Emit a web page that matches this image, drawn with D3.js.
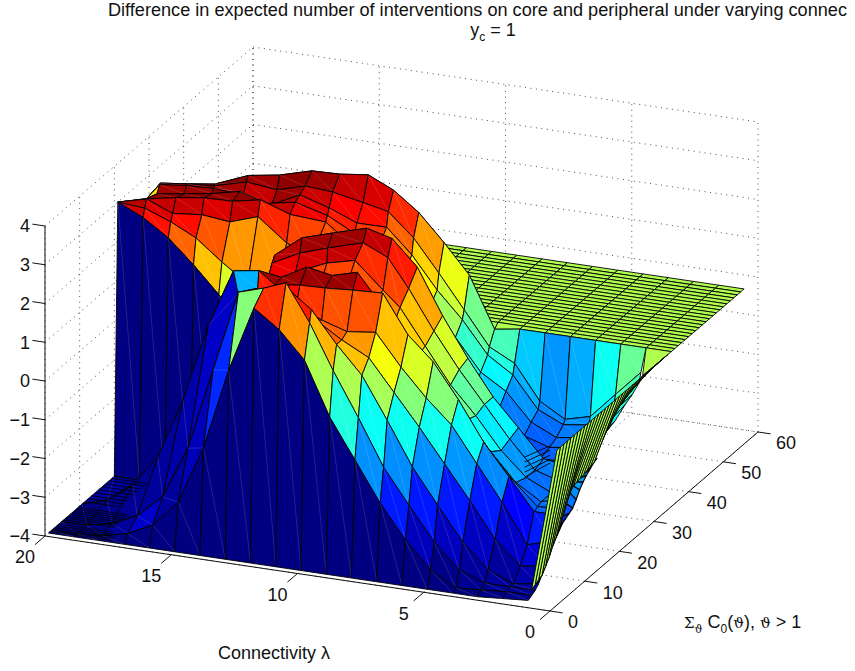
<!DOCTYPE html>
<html>
<head>
<meta charset="utf-8">
<script src="https://cdnjs.cloudflare.com/ajax/libs/d3/7.8.5/d3.min.js"></script>
<style>
  body { margin: 0; background: #fff; }
  text { font-family: "Liberation Sans", Arial, sans-serif; fill: #111; }
</style>
</head>
<body>
<svg id="chart" width="855" height="671"></svg>
<script>
// tick labels
var lambdaTicks = [0, 5, 10, 15, 20]
var sigmaTicks = [0, 10, 20, 30, 40, 50, 60]
var zTicks = [-4, -3, -2, -1, 0, 1, 2, 3, 4]

// mesh columns, connectivity lambda
var lambdas = [0, 1, 2, 3, 4, 5, 6, 7, 8, 9, 10, 11, 12, 13, 14, 15, 16, 17, 18, 19, 20]

// mesh rows front to back: sigma and height at every lambda column
var sigmaRows = [
  [1, 1, 1, 1, 1, 1, 1, 1, 1, 1, 1, 1, 1, 1, 1, 1, 1, 1, 1, 1, 1],
  [2, 2, 2, 2, 2, 2, 2, 2, 2, 2, 2, 2, 2, 2, 2, 2, 2, 2, 2, 2, 2],
  [3, 3, 3, 3, 3, 3, 3, 3, 3, 3, 3.5, 4, 4.8, 4.8, 4.8, 4.8, 4.8, 4.8, 4.8, 4.8, 4.8],
  [4, 4, 4, 4, 4, 4, 4, 4, 4, 4, 4, 4.5, 5, 4.8, 4.8, 4.8, 4.8, 4.8, 4.8, 4.8, 4.8],
  [6, 6, 6, 6, 6, 6, 6, 6, 6, 5.5, 5.5, 5.5, 5.5, 4.8, 4.8, 4.8, 4.8, 4.8, 4.8, 4.8, 4.8],
  [8, 8, 8, 8, 8, 8, 8, 8, 8, 7, 7, 7, 7, 10.4, 12, 4.8, 4.8, 4.8, 4.8, 4.8, 4.8],
  [10, 10, 10, 10, 10, 10, 10, 10, 10, 8.7, 8, 8, 8, 10.7, 10.7, 10.7, 10.7, 10.7, 10.7, 10.7, 10.7],
  [11, 11, 11, 11, 11, 11, 11, 11, 11, 10, 10, 10, 10, 10.7, 10.7, 10.7, 10.7, 10.7, 10.7, 10.7, 10.7],
  [12, 12, 12, 12, 12, 12, 12, 12, 12, 12, 12, 12, 12, 11.5, 13, 15, 20, 20, 20, 20, 20],
  [15, 15, 15, 15, 15, 15, 15, 15, 15, 17.4, 16.6, 15.8, 14, 13, 15, 18, 20, 20, 20, 20, 20],
  [17.5, 17.5, 17.5, 17.5, 17.5, 17.5, 17.5, 17.5, 17.5, 18.8, 18.9, 16, 15.3, 14.5, 17, 19, 20, 20, 20, 20, 20],
  [20, 20, 20, 20, 20, 20, 20, 20, 20, 20, 20, 17.4, 15.8, 15.3, 18, 20, 20, 20, 20, 20, 20],
  [23, 23, 23, 23, 23, 23, 23, 23, 23, 23, 23, 23, 23, 23, 21, 21, 21, 21, 21, 21, 21],
  [24.5, 24.5, 24.5, 24.5, 24.5, 24.5, 24.5, 24.5, 24.5, 24.5, 24.5, 24.5, 24.5, 24.5, 24, 22, 21.9, 21.7, 21.7, 21.5, 21],
  [26, 26, 26, 26, 26, 26, 26, 26, 26, 26, 26, 26, 26, 26, 26, 25, 24.2, 23.4, 22.3, 22, 21],
  [29, 29, 29, 29, 29, 29, 29, 29, 29, 29, 29, 29, 30, 30, 27, 25.7, 25, 24, 23.2, 22, 21],
  [31, 31, 31, 31, 31, 31, 31, 31, 31, 31, 31, 31, 31, 30.5, 28.5, 27.5, 27, 26.3, 25.6, 25, 29.4],
  [33, 33, 33, 33, 33, 33, 33, 33, 33, 33, 33, 33, 31.7, 31, 29.8, 29, 28, 26.8, 26.2, 25.8, 29.4],
  [33.5, 33.5, 33.5, 33.5, 33.5, 33.5, 33.5, 33.5, 33.5, 33.5, 33.5, 33.5, 33.5, 32, 31.3, 30.5, 29, 27, 26.4, 26, 29.4],
  [35, 35, 35, 35, 35, 35, 35, 35, 35, 35, 35, 35, 35, 34, 33.3, 31.3, 29.5, 27.2, 26.4, 26, 29.4]
]
var zRows = [
  [0, -3.9, -3.95, -4, -4, -4, -4, -4, -4, -4, -4, -4, -4, -4, -4, -4, -4, -4, -4, -4, -4],
  [0, -3.85, -3.85, -3.9, -3.95, -3.58, -2.9, -2.05, -1.03, -0.02, 1.35, 2.04, 2.5, 0.8, -1.3, -2.8, -3.48, -3.8, -3.95, -4, -4],
  [0, -3.8, -3.8, -3.8, -3.56, -2.93, -2.08, -1.2, -0.02, 1.1, 2.2, 3.1, 2.8, 2.6, 0.5, -1.62, -2.97, -3.56, -3.85, -4, -4],
  [0, -3.7, -3.8, -3.54, -2.92, -2.06, -1.17, -0.06, 1, 1.7, 2.5, 2.9, 2.7, 2.6, 0.5, -1.62, -2.97, -3.56, -3.85, -4, -4],
  [0, -3.4, -3.5, -2.9, -2, -1.15, -0.3, 0.5, 1.3, 1.7, 2.1, 2.4, 2.3, 2.6, 0.5, -1.62, -2.97, -3.56, -3.85, -4, -4],
  [0, -2.9, -3.1, -2.1, -1.2, -0.3, 0.3, 1, 1.8, 1.8, 2, 2.3, 2.2, 2.27, 1.9, -1.62, -2.97, -3.56, -3.85, -4, -4],
  [0, -2.4, -2.4, -1.6, -0.8, 0.2, 1.08, 1.68, 2.66, 2.74, 2.75, 2.73, 2.64, 2.7, 2.6, 1.1, -0.93, -2.5, -3.32, -3.8, -4],
  [0, -2.3, -2.35, -1.75, -1, -0.15, 0.65, 1.3, 2.1, 3.1, 2.92, 3.04, 2.68, 2.7, 2.6, 1.1, -0.93, -2.5, -3.32, -3.8, -4],
  [0, -2.1, -2.3, -1.9, -1.2, -0.5, 0.2, 0.9, 1.4, 1.8, 1.9, 1.9, 1.9, 1.5, 0, -2, -4, -4, -4, -4, -4],
  [0, -1.9, -2.3, -2, -1.4, -0.6, 0.1, 1, 1.9, 2.07, 2.8, 2.7, 2.5, 2.2, 0, -2, -4, -4, -4, -4, -4],
  [0, -1.7, -2.2, -2, -1.3, -0.5, 0.3, 1.2, 2.2, 2.8, 3.08, 3.07, 2.9, 2.6, 0.5, -2, -4, -4, -4, -4, -4],
  [0, -1.5, -2, -1.9, -1.2, -0.5, 0.4, 1.4, 2.56, 3.2, 3.37, 3.35, 3.25, 2.75, 1, -3, -4, -4, -4, -4, -4],
  [0, -1.3, -2, -2.4, -2.5, -2.5, -2, -1.3, -0.5, 0.2, 1, 1.5, 1.7, 1.5, -0.3, 0.3, 1, 1.67, 2.27, 2.7, 3],
  [0, -1.25, -1.95, -2.4, -2.5, -2.45, -1.95, -1.35, -0.6, 0.1, 0.9, 1.45, 1.75, 1.6, 1.3, 1.3, 1.77, 2.31, 2.63, 2.9, 3],
  [0, -1.2, -1.9, -2.4, -2.5, -2.4, -1.9, -1.4, -0.7, 0, 0.8, 1.4, 1.8, 1.9, 2.14, 2.8, 2.63, 2.78, 2.8, 3.1, 3],
  [0, -1, -1.8, -2.3, -2.4, -2.2, -1.6, -1.2, -0.4, 0.3, 1.1, 1.7, 1.98, 2.47, 2.8, 3.18, 3.1, 3.17, 3.14, 3.1, 3],
  [0, -0.9, -1.6, -2.2, -2.3, -2, -1.3, -0.9, -0.1, 0.6, 1.4, 2, 2.2, 2.6, 3, 2.95, 3.2, 3.1, 3.05, 3, 2.45],
  [0, -0.75, -1.4, -2.03, -2.12, -1.83, -1.03, -0.61, 0.2, 0.87, 1.68, 2.3, 2.41, 2.76, 3.09, 2.8, 3.03, 3.2, 3.22, 3.18, 2.45],
  [0, -0.52, -1.18, -1.85, -2.02, -1.65, -0.77, -0.44, 0.42, 1.27, 2.08, 2.66, 2.8, 3.09, 3.2, 3.07, 3.29, 3.25, 3.25, 3.2, 2.45],
  [0, 0, 0, 0, 0, 0, 0, -0.1, 1.2, 1.94, 2.62, 3.1, 3.4, 3.4, 3.44, 3.39, 3.42, 3.28, 3.25, 3.2, 2.45]
]

// flat part of the surface behind the ridge
var planeSigma = [36, 37, 38, 39, 40, 41, 42, 43, 44, 45, 46, 47, 48, 49, 50, 51, 52, 53, 54, 55, 56]
var planeZ = 0

// faces whose colour does not follow the first vertex: row, column, colour value
var colourOverrides = [
  [1, 12, -0.3], [1, 13, -2.8], [1, 14, -3.6], [1, 15, -3.8],
  [4, 13, -3], [4, 14, -3.6],
  [5, 13, -1.8], [5, 14, -3.5], [5, 15, -3.7], [5, 16, -3.8], [5, 17, -3.85], [5, 18, -3.9], [5, 19, -4],
  [6, 9, 3.1], [6, 10, 3.1], [6, 11, 3.1], [6, 12, 3.1],
  [16, 19, 0.8], [17, 19, 0.8], [18, 19, 0.8]
]

// the thin band between lambda 0 and lambda 1
var bandSigma = [2, 3, 4, 5, 6, 7, 8, 9, 10, 11, 12, 13, 14, 15, 16, 17, 18, 19, 20, 21, 22, 23, 24, 25, 26, 27, 28, 29, 30, 31, 32, 33, 34, 35]
var bandZ = [-3.7, -3.65, -3.6, -3.55, -3.4, -3.25, -3.05, -2.9, -2.7, -2.5, -2.25, -2.05, -1.95, -1.92, -1.9, -1.88, -1.85, -1.82, -1.8, -1.6, -1.45, -1.3, -1.15, -1.05, -0.98, -0.92, -0.87, -0.82, -0.78, -0.74, -0.7, -0.67, -0.64, 0]
var flapSigma = [3, 4, 5, 6, 7, 8, 9, 10, 11, 12, 13, 14, 15, 16, 17, 18, 19]
var flapZ = [-3.12, -2.95, -2.76, -2.68, -2.6, -2.55, -2.5, -2.45, -2.4, -2.34, -2.2, -2.03, -1.9, -1.8, -1.72, -1.64, -1.6]

// closely spaced rows on the floor at high lambda
var floorSigma = [1.6, 2.2, 2.8, 3.4, 4, 5.4, 6, 6.6, 7.2, 7.8, 8.4, 9, 9.6, 11.5, 12.5, 13.5, 14.5, 15.5, 16.5, 17.5, 18.5, 19.3]
var floorEnd = [17.6, 17.6, 17.7, 17.8, 17.8, 18, 18, 18, 18, 18, 18, 18, 18, 18.6, 18.6, 18.6, 18.6, 18.6, 18.6, 18.6, 18.6, 18.6]

// closely spaced rows in the valley next to the band
var valleySigma = 7.3
var valleyZ2 = [-1.3, -1.17, -1.04, -0.91, -0.78]
var valleyZ1 = [-0.84, -0.74, -0.64, -0.51, -0.4]

// the reference cuts the title at the edge of the picture
var title = 'Difference in expected number of interventions on core and peripheral under varying connec'

// projection of the box, MATLAB style orthographic view
var originX = 550, originY = 611
var lamX = d3.scaleLinear().domain([0, 20]).range([0, -505])
var lamY = d3.scaleLinear().domain([0, 20]).range([0, -75])
var sigX = d3.scaleLinear().domain([0, 60]).range([0, 208])
var sigY = d3.scaleLinear().domain([0, 60]).range([0, -179])
var zY = d3.scaleLinear().domain([-4, 4]).range([0, -310])

function project(l, s, z) {
  return [originX + lamX(l) + sigX(s), originY + lamY(l) + sigY(s) + zY(z)]
}

var jet = d3.scaleLinear()
  .domain([0, 0.125, 0.375, 0.625, 0.875, 1].map(function(t) { return -4 + t * 7.3 }))
  .range(['#000080', '#0000ff', '#00ffff', '#ffff00', '#ff0000', '#800000'])
  .clamp(true)

var svg = d3.select('#chart')
var line = d3.line()
var root = svg.append('g')

// dotted grid on the floor and the two back walls
var grid = []
lambdaTicks.forEach(function(l) {
  grid.push([project(l, 0, -4), project(l, 60, -4)])
  grid.push([project(l, 60, -4), project(l, 60, 4)])
})
sigmaTicks.forEach(function(s) {
  grid.push([project(0, s, -4), project(20, s, -4)])
  grid.push([project(20, s, -4), project(20, s, 4)])
})
zTicks.forEach(function(z) {
  grid.push([project(20, 0, z), project(20, 60, z)])
  grid.push([project(20, 60, z), project(0, 60, z)])
})
root.append('g').selectAll('path').data(grid).enter().append('path')
  .attr('d', line)
  .attr('fill', 'none')
  .attr('stroke', '#222')
  .attr('stroke-width', 0.8)
  .attr('stroke-dasharray', '1 4.5')

// axis lines and ticks
var axisLines = [
  [project(0, 0, -4), project(20, 0, -4)],
  [project(0, 0, -4), project(0, 60, -4)],
  [project(20, 0, -4), project(20, 0, 4)]
]
lambdaTicks.forEach(function(l) { axisLines.push([project(l, 0, -4), project(l, -2.9, -4)]) })
sigmaTicks.forEach(function(s) { axisLines.push([project(0, s, -4), project(-0.5, s, -4)]) })
zTicks.forEach(function(z) { axisLines.push([project(20, 0, z), project(20.5, 0, z)]) })
root.append('g').selectAll('path').data(axisLines).enter().append('path')
  .attr('d', line)
  .attr('fill', 'none')
  .attr('stroke', '#111')
  .attr('stroke-width', 1)

// build the mesh rows, back to front so nearer faces paint over further ones
var allSigma = sigmaRows.concat(planeSigma.map(function(s) { return lambdas.map(function() { return s }) }))
var allZ = zRows.concat(planeSigma.map(function() { return lambdas.map(function() { return planeZ }) }))

function colourValue(j, i) {
  var o = colourOverrides.find(function(c) { return c[0] === j && c[1] === i })
  return o ? o[2] : allZ[j][i]
}

var faces = []
for (var j = allZ.length - 2; j >= 0; j--) {
  for (var i = lambdas.length - 2; i >= 0; i--) {
    // column 0 of the lower rows is drawn by the band further down
    if (i === 0 && j < zRows.length - 1) continue
    faces.push({
      corners: [
        project(lambdas[i], allSigma[j][i], allZ[j][i]),
        project(lambdas[i + 1], allSigma[j][i + 1], allZ[j][i + 1]),
        project(lambdas[i + 1], allSigma[j + 1][i + 1], allZ[j + 1][i + 1]),
        project(lambdas[i], allSigma[j + 1][i], allZ[j + 1][i])
      ],
      colour: jet(colourValue(j, i)),
      seam: j < zRows.length - 1
    })
  }
}

function addFaces(list, width) {
  var g = root.append('g')
  list.forEach(function(f) {
    g.append('path')
      .attr('d', line(f.corners) + 'Z')
      .attr('fill', f.colour)
      .attr('stroke', '#000')
      .attr('stroke-width', width)
      .attr('stroke-linejoin', 'round')
    if (f.seam) {
      g.append('path')
        .attr('d', line([f.corners[0], f.corners[2]]))
        .attr('stroke', '#fff')
        .attr('stroke-opacity', 0.22)
        .attr('stroke-width', 0.6)
    }
  })
}
addFaces(faces, 0.9)

// floor stripes
root.append('g').selectAll('path').data(floorSigma).enter().append('path')
  .attr('d', function(s, k) { return line([project(20, s, -4), project(floorEnd[k], s, -4)]) })
  .attr('stroke', '#000')
  .attr('stroke-width', 0.8)

// valley stripes
root.append('g').selectAll('path').data(valleyZ2).enter().append('path')
  .attr('d', function(z, k) { return line([project(2, valleySigma, z), project(1, valleySigma, valleyZ1[k])]) })
  .attr('stroke', '#000')
  .attr('stroke-width', 0.9)

// flap under the band, then the band itself
var flapFaces = []
for (var k = flapSigma.length - 2; k >= 0; k--) {
  var b = bandSigma.indexOf(flapSigma[k])
  flapFaces.push({
    corners: [
      project(1, flapSigma[k], bandZ[b]),
      project(1, flapSigma[k + 1], bandZ[b + 1]),
      project(0.75, flapSigma[k + 1], flapZ[k + 1]),
      project(0.75, flapSigma[k], flapZ[k])
    ],
    colour: jet(bandZ[b]),
    seam: false
  })
}
addFaces(flapFaces, 1.2)

var bandFaces = []
for (var n = bandSigma.length - 2; n >= 0; n--) {
  bandFaces.push({
    corners: [
      project(0, bandSigma[n], 0),
      project(1, bandSigma[n], bandZ[n]),
      project(1, bandSigma[n + 1], bandZ[n + 1]),
      project(0, bandSigma[n + 1], 0)
    ],
    colour: jet(0),
    seam: false
  })
}
addFaces(bandFaces, 0.9)

// tick labels
root.append('g').selectAll('text').data(zTicks).enter().append('text')
  .attr('x', 30)
  .attr('y', function(z) { return project(20, 0, z)[1] })
  .attr('dy', '0.36em')
  .attr('text-anchor', 'end')
  .attr('font-size', 18)
  .text(function(z) { return z < 0 ? '\u2212' + (-z) : z })
root.append('g').selectAll('text').data(lambdaTicks).enter().append('text')
  .attr('x', function(l) { return project(l, 0, -4)[0] - 20 })
  .attr('y', function(l) { return project(l, 0, -4)[1] + 21 })
  .attr('dy', '0.36em')
  .attr('text-anchor', 'middle')
  .attr('font-size', 18)
  .text(function(l) { return l })
root.append('g').selectAll('text').data(sigmaTicks).enter().append('text')
  .attr('x', function(s) { return project(0, s, -4)[0] + 18 })
  .attr('y', function(s) { return project(0, s, -4)[1] + 11 })
  .attr('dy', '0.36em')
  .attr('font-size', 18)
  .text(function(s) { return s })

// titles and axis labels
root.append('text').attr('x', 108).attr('y', 16)
  .attr('font-size', 18).attr('textLength', 739).attr('lengthAdjust', 'spacingAndGlyphs').text(title)
var sub = root.append('text').attr('x', 493).attr('y', 36)
  .attr('text-anchor', 'middle').attr('font-size', 18)
sub.append('tspan').text('y')
sub.append('tspan').attr('dy', 5).attr('font-size', 12).text('c')
sub.append('tspan').attr('dy', -5).text(' = 1')

root.append('text').attr('x', 218).attr('y', 659).attr('font-size', 18)
  .text('Connectivity \u03bb')

var sigmaLabel = root.append('text').attr('x', 684).attr('y', 628).attr('font-size', 18)
sigmaLabel.append('tspan').attr('font-family', 'DejaVu Serif').attr('font-size', 15).text('\u03a3')
sigmaLabel.append('tspan').attr('dy', 5).attr('font-size', 11).attr('font-family', 'DejaVu Serif').text('\u03d1')
sigmaLabel.append('tspan').attr('dy', -5).text(' C')
sigmaLabel.append('tspan').attr('dy', 5).attr('font-size', 12).text('0')
sigmaLabel.append('tspan').attr('dy', -5).text('(')
sigmaLabel.append('tspan').attr('font-family', 'DejaVu Serif').attr('font-size', 15).text('\u03d1')
sigmaLabel.append('tspan').text('), ')
sigmaLabel.append('tspan').attr('font-family', 'DejaVu Serif').attr('font-size', 15).text('\u03d1')
sigmaLabel.append('tspan').text(' > 1')
</script>
</body>
</html>
